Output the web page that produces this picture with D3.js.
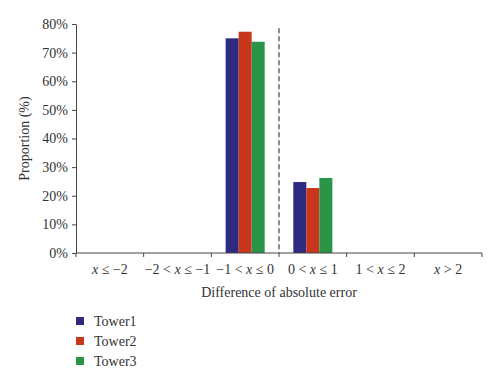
<!DOCTYPE html>
<html lang="en">
<head>
<meta charset="utf-8">
<title>Difference of absolute error</title>
<style>
  body { margin: 0; background: #fff; }
  svg text { font-family: "Liberation Serif", "Times New Roman", Times, serif; fill: #333; }
  .axis path, .axis line { stroke: #444; }
</style>
</head>
<body>
<div id="chart"></div>
<script src="https://cdn.jsdelivr.net/npm/d3@7"></script>
<script>
// bins of the x axis: [before x, after x]
var categories = [["", " \u2264 \u22122"], ["\u22122 < ", " \u2264 \u22121"], ["\u22121 < ", " \u2264 0"],
                  ["0 < ", " \u2264 1"], ["1 < ", " \u2264 2"], ["", " > 2"]];
var seriesNames = ["Tower1", "Tower2", "Tower3"];
var tower1 = [0, 0, 0.75, 0.248, 0, 0];
var tower2 = [0, 0, 0.773, 0.227, 0, 0];
var tower3 = [0, 0, 0.738, 0.262, 0, 0];
var yTicks = [0, 0.1, 0.2, 0.3, 0.4, 0.5, 0.6, 0.7, 0.8];
var colors = ["#2e2a80", "#c8361c", "#2a9447"];

var W = 500, H = 383;
var margin = {left: 76, right: 18, top: 24, bottom: 130};
var width = W - margin.left - margin.right,
    height = H - margin.top - margin.bottom;

var svg = d3.select("#chart").append("svg")
  .attr("width", W).attr("height", H);
var g = svg.append("g").attr("transform", "translate(" + margin.left + "," + margin.top + ")");

var idx = d3.range(categories.length);
var x = d3.scaleBand().domain(idx).range([0, width]).paddingInner(0).paddingOuter(0);
var xs = d3.scaleBand().domain(seriesNames).range([0, x.bandwidth()]).paddingInner(0).paddingOuter(1.1);
var y = d3.scaleLinear().domain([0, 0.8]).range([height, 0]);

var data = [tower1, tower2, tower3];

// bars
seriesNames.forEach(function(name, s) {
  g.append("g").selectAll("rect")
    .data(data[s])
    .join("rect")
    .attr("x", function(d, i) { return x(i) + xs(name); })
    .attr("y", function(d) { return y(d); })
    .attr("width", xs.bandwidth())
    .attr("height", function(d) { return height - y(d); })
    .attr("fill", colors[s]);
});

// dashed divider at x = 0
g.append("line")
  .attr("x1", x(3)).attr("x2", x(3))
  .attr("y1", y(0.785)).attr("y2", height)
  .attr("stroke", "#666").attr("stroke-width", 1.5)
  .attr("stroke-dasharray", "5,3");

// y axis
var yAxis = g.append("g").attr("class", "axis")
  .call(d3.axisLeft(y).tickValues(yTicks).tickFormat(d3.format(".0%")).tickSize(4).tickSizeOuter(0));
yAxis.selectAll("text").attr("font-size", 14).attr("x", -8).attr("font-family", null).attr("fill", "#333");

// x axis with tick marks at band edges
var xAxisG = g.append("g").attr("class", "axis")
  .attr("transform", "translate(0," + height + ")");
xAxisG.append("line").attr("x1", 0).attr("x2", width).attr("stroke", "#444");
xAxisG.selectAll("line.tick")
  .data(idx.concat([categories.length]))
  .join("line")
  .attr("class", "tick")
  .attr("x1", function(i) { return i * x.step(); })
  .attr("x2", function(i) { return i * x.step(); })
  .attr("y1", 0).attr("y2", 4)
  .attr("stroke", "#444");

var lbl = xAxisG.selectAll("text.cat")
  .data(categories)
  .join("text")
  .attr("class", "cat")
  .attr("x", function(d, i) { return x(i) + x.bandwidth() / 2; })
  .attr("y", 21)
  .attr("text-anchor", "middle")
  .attr("font-size", 14);
lbl.append("tspan").text(function(d) { return d[0]; });
lbl.append("tspan").attr("font-style", "italic").text("x");
lbl.append("tspan").text(function(d) { return d[1]; });

// axis titles
g.append("text")
  .attr("x", width / 2).attr("y", height + 44)
  .attr("text-anchor", "middle").attr("font-size", 14)
  .text("Difference of absolute error");

svg.append("text")
  .attr("transform", "translate(29," + (margin.top + height / 2) + ") rotate(-90)")
  .attr("text-anchor", "middle").attr("font-size", 14)
  .text("Proportion (%)");

// legend
var legend = svg.append("g").attr("transform", "translate(76,317)");
seriesNames.forEach(function(name, s) {
  var row = legend.append("g").attr("transform", "translate(0," + s * 20 + ")");
  row.append("rect").attr("width", 8).attr("height", 8).attr("fill", colors[s]);
  row.append("text").attr("x", 18).attr("y", 9).attr("font-size", 14).text(name);
});
</script>
</body>
</html>
